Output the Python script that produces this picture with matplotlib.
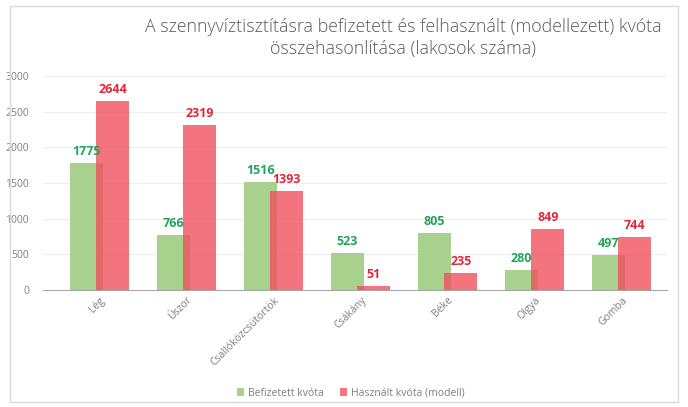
import numpy as np
import matplotlib.pyplot as plt
from matplotlib.patches import Rectangle

categories = ['Lég', 'Úszor', 'Csallóközcsütörtök', 'Csákány', 'Béke', 'Olgya', 'Gomba']
befizetett = [1775, 766, 1516, 523, 805, 280, 497]
hasznalt = [2644, 2319, 1393, 51, 235, 849, 744]

GREEN = '#A9D18E'
RED = '#F0505E'
GREEN_TXT = '#22A45A'
RED_TXT = '#E0283A'
GRAY = '#7F7F7F'

plt.rcParams['font.family'] = ['Open Sans', 'DejaVu Sans']

fig = plt.figure(figsize=(6.88, 4.07), dpi=100)
fig.patches.append(Rectangle((10 / 688, 5 / 407), 668 / 688, 396 / 407,
                             transform=fig.transFigure, fill=False,
                             edgecolor='#D9D9D9', linewidth=1))
ax = fig.add_axes([43 / 688, 1 - 290 / 407, 624 / 688, 214 / 407])

x = np.arange(len(categories))
w = 0.38
off = 0.15
ax.bar(x - off, befizetett, w, color=GREEN, label='Befizetett kvóta', zorder=2)
ax.bar(x + off, hasznalt, w, color=RED, alpha=0.8, label='Használt kvóta (modell)', zorder=3)

for i in range(len(categories)):
    ax.text(x[i] - off, befizetett[i] + 70, str(befizetett[i]), ha='center', va='bottom',
            color=GREEN_TXT, fontsize=9, fontweight='bold')
    ax.text(x[i] + off, hasznalt[i] + 70, str(hasznalt[i]), ha='center', va='bottom',
            color=RED_TXT, fontsize=9, fontweight='bold')

ax.set_ylim(0, 3000)
ax.set_xlim(-0.65, 6.52)
ax.set_yticks(range(0, 3001, 500))
ax.yaxis.grid(True, color='#EDEDED', linewidth=0.8, zorder=0)
ax.set_axisbelow(True)
for s in ['top', 'right', 'left']:
    ax.spines[s].set_visible(False)
ax.spines['bottom'].set_color('#A6A6A6')
ax.tick_params(axis='both', length=0, colors=GRAY, labelsize=7.5)
ax.tick_params(axis='y', pad=10)
ax.set_xticks(x)
ax.set_xticklabels(categories, rotation=45, ha='right', rotation_mode='anchor')

fig.text(0.586, 0.955, 'A szennyvíztisztításra befizetett és felhasznált (modellezett) kvóta\nösszehasonlítása (lakosok száma)',
         ha='center', va='top', fontsize=12.8, color='#595959', fontweight='light', linespacing=1.25)

fig.legend(loc='center', bbox_to_anchor=(0.51, 1 - 393 / 407), ncol=2, frameon=False,
           fontsize=7.5, labelcolor=GRAY, handlelength=0.7, handleheight=0.7, columnspacing=1.5,
           handletextpad=0.4)

fig.savefig('out.png', dpi=100)
